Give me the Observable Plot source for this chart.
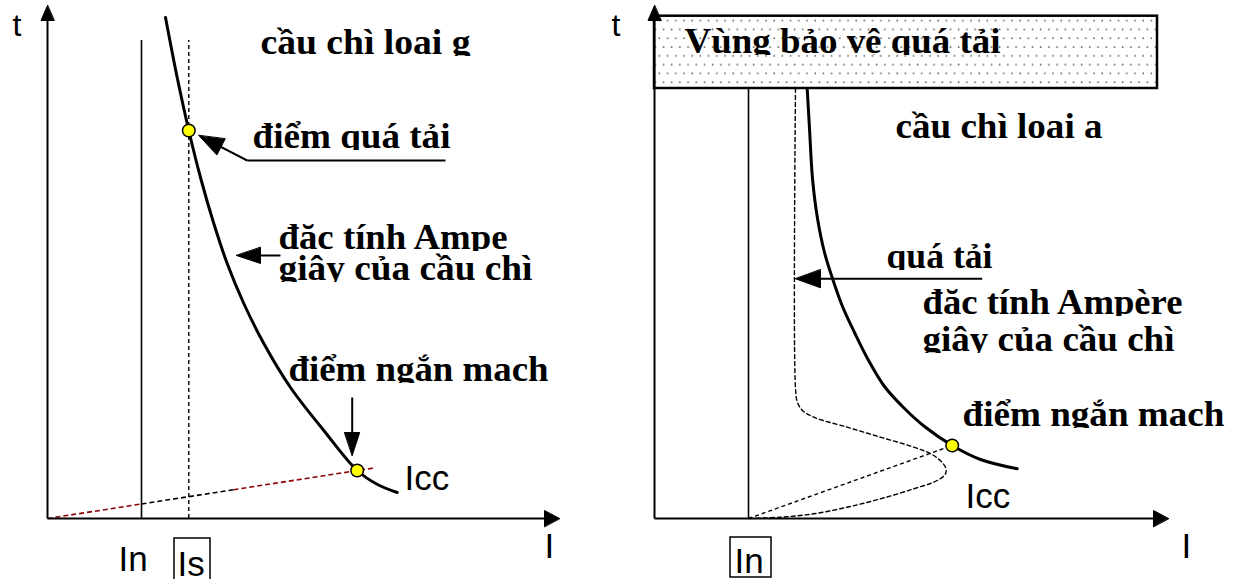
<!DOCTYPE html>
<html><head><meta charset="utf-8">
<script src="https://cdn.jsdelivr.net/npm/d3@7"></script>
<script src="https://cdn.jsdelivr.net/npm/@observablehq/plot@0.6"></script>
<style>
html,body{margin:0;padding:0;background:#fff;}
#wrap{position:relative;width:1238px;height:579px;overflow:hidden;background:#fff;}
#left{position:absolute;left:0;top:0;width:600px;height:579px;}
#right{position:absolute;left:600px;top:0;width:638px;height:579px;}
</style></head>
<body><div id="wrap"><div id="left"></div><div id="right"></div></div>
<script>
// ===== Panel g (cầu chì loại g) — current I vs time t, arbitrary units =====
const gCurveI = [118, 129.7, 141.3, 153, 166.3, 179.7, 196.3, 216.3, 243, 276.3, 309.7, 330, 349.7];
const gCurveT = [501, 441, 388, 341, 295, 255, 215, 175, 131, 88, 48, 34, 26];
const gIn = 94, gIs = 141.3, gGuideTop = 478;
const gLoadI = [0, 94, 186, 327];
const gLoadT = [0, 14.5, 28.8, 50.6];
const gLoadColor = ["#8b0000", "#000000", "#8b0000"];
const gPointI = [141.3, 309.7];
const gPointT = [388, 48];
const gLabels = ["cầu chì loai g", "điểm quá tải", "đăc tính Ampe", "giây của cầu chì", "điểm ngắn mach"];
const gLabelI = [213, 205, 231, 231, 241];
const gLabelT = [465, 371, 270, 239, 138];
const gAxisLabels = ["t", "In", "Is", "Icc", "I"];
const gAxisLabelI = [-35, 71, 130, 357, 497];
const gAxisLabelT = [483, -52, -57, 29, -39];
// pointer arrows: [fromI, fromT, tipI, tipT]
const gPointers = [[199.7, 358, 151.3, 383], [233, 263, 189, 263], [304.7, 121, 304.7, 63]];
const gUnderline = [199.7, 398, 358];
const gBox = [127, 163, -20, -63];

// ===== Panel a (cầu chì loại a) =====
const aCurveI = [152.7, 155, 158, 163, 170, 178, 188, 200, 213, 230, 250, 270, 297.7, 326, 362.7];
const aCurveT = [430, 390, 340, 300, 266, 240, 212, 186, 160, 132, 110, 92, 73, 59, 49.7];
const aDashI = [141, 141, 143, 148, 159.3, 192.7, 226, 259.3, 279.3, 291, 291, 282.7, 259.3, 226, 192.7, 159.3, 126, 94];
const aDashT = [430, 130, 116, 108, 101.3, 91.3, 81.3, 71.3, 63, 51.3, 44.7, 38, 29.7, 19.7, 11.3, 4.7, 1.3, 0];
const aIn = 94, aZoneBottom = 430, aZoneTop = 502.3, aZoneRight = 503;
const aPointI = [297.7];
const aPointT = [73];
const aLabels = ["Vùng bảo vệ quá tải", "cầu chì loai a", "quá tải", "đăc tính Ampère", "giây của cầu chì", "điểm ngắn mach"];
const aLabelI = [30, 241, 232, 268, 268, 308];
const aLabelT = [466, 381, 251, 205, 168, 93];
const aAxisLabels = ["t", "In", "Icc", "I"];
const aAxisLabelI = [-43, 80, 311, 527];
const aAxisLabelT = [483, -54, 11, -39];
const aPointers = [[327.7, 239.7, 141, 239.7]];
const aBox = [76, 117, -19, -59];

// ----- layout / style (not data) -----
const gLabelWidth = [210, 198, 229, 254, 260];
const aLabelWidth = [316, 207, 106, 260, 252, 262];
const gAxisLabelSize = [32, 35, 35, 35, 35];
const aAxisLabelSize = [32, 35, 35, 35];
const SERIF = "'Liberation Serif','Times New Roman',serif";
const SANS = "'Liberation Sans',Arial,sans-serif";
const SERIF_SIZE = 36;

function headPolys(arrows) {
  const out = [];
  arrows.forEach(([x1, y1, x2, y2, len, wid], k) => {
    const dx = x2 - x1, dy = y2 - y1, L = Math.hypot(dx, dy), ux = dx / L, uy = dy / L;
    const bx = x2 - ux * len, by = y2 - uy * len, px = -uy, py = ux;
    out.push({x: x2, y: y2, id: k}, {x: bx + px * wid / 2, y: by + py * wid / 2, id: k}, {x: bx - px * wid / 2, y: by - py * wid / 2, id: k});
  });
  return out;
}
function shafts(arrows) {
  return arrows.map(([x1, y1, x2, y2, len]) => {
    const dx = x2 - x1, dy = y2 - y1, L = Math.hypot(dx, dy);
    return {x1, y1, x2: x2 - dx / L * len * 0.6, y2: y2 - dy / L * len * 0.6};
  });
}
const zip = (X, Y) => X.map((x, i) => ({x, y: Y[i]}));

function panel(el, P, prefix) {
  const svg = Plot.plot({
    width: P.width, height: 579, margin: 0,
    x: {domain: [0, P.xMax], range: P.xRange, axis: null},
    y: {domain: [0, 513], range: [518, 5], axis: null},
    color: {type: "identity"},
    style: {background: "transparent", overflow: "visible", maxWidth: "none"},
    marks: P.marks
  });
  el.appendChild(svg);
  const s = d3.select(svg);
  let defs = s.select("defs");
  if (defs.empty()) defs = s.insert("defs", ":first-child");
  const pat = defs.append("pattern").attr("id", prefix + "dots").attr("patternUnits", "userSpaceOnUse")
    .attr("width", 8.2).attr("height", 17.6);
  pat.append("rect").attr("width", 8.2).attr("height", 17.6).attr("fill", "#fff");
  pat.append("circle").attr("cx", 2).attr("cy", 3).attr("r", 0.9).attr("fill", "#555");
  pat.append("circle").attr("cx", 6.1).attr("cy", 11.8).attr("r", 0.9).attr("fill", "#555");
  const groups = s.selectAll('g[aria-label="text"]').nodes();
  groups.forEach(g => d3.select(g).selectAll("text").attr("dy", null).attr("y", 0));
  d3.select(groups[0]).selectAll("text").each(function (_, i) {
    const w = P.serifWidths[i];
    const id = prefix + "clip" + i;
    defs.append("clipPath").attr("id", id).attr("clipPathUnits", "userSpaceOnUse")
      .append("rect").attr("x", -8).attr("y", -80).attr("width", w + 16).attr("height", 82.5);
    d3.select(this).attr("textLength", w).attr("lengthAdjust", "spacingAndGlyphs").attr("clip-path", `url(#${id})`);
  });
  if (P.zone) s.selectAll('g[aria-label="rect"]').filter((d, i) => i === 0).selectAll("rect").attr("fill", `url(#${prefix}dots)`);
}

// ---------- left panel ----------
const gArrowSpecs = [
  [0, 0, 0, 513, 15, 13],
  [0, 0, 512, 0, 15, 16],
  [...gPointers[0], 25, 18],
  [...gPointers[1], 24, 16],
  [...gPointers[2], 23, 15]
];
const gLoadSeg = gLoadColor.map((c, i) => ({x1: gLoadI[i], y1: gLoadT[i], x2: gLoadI[i + 1], y2: gLoadT[i + 1], c}));
const gSerif = gLabels.map((s, i) => ({s, x: gLabelI[i], y: gLabelT[i]}));
const gSans = gAxisLabels.map((s, i) => ({s, x: gAxisLabelI[i], y: gAxisLabelT[i], size: gAxisLabelSize[i]}));

panel(document.getElementById("left"), {
  width: 600, xMax: 512, xRange: [47, 559], serifWidths: gLabelWidth,
  marks: [
    Plot.ruleX([gIn], {y1: 0, y2: gGuideTop, stroke: "black", strokeWidth: 1.6}),
    Plot.ruleX([gIs], {y1: 0, y2: gGuideTop, stroke: "black", strokeWidth: 1.4, strokeDasharray: "4,3"}),
    Plot.link(gLoadSeg, {x1: "x1", y1: "y1", x2: "x2", y2: "y2", stroke: "c", strokeWidth: 1.6, strokeDasharray: "5,3"}),
    Plot.link(shafts(gArrowSpecs.slice(0, 2)), {x1: "x1", y1: "y1", x2: "x2", y2: "y2", stroke: "black", strokeWidth: 2}),
    Plot.line(zip(gCurveI, gCurveT), {x: "x", y: "y", curve: "catmull-rom", stroke: "black", strokeWidth: 3}),
    Plot.link(shafts(gArrowSpecs.slice(2)), {x1: "x1", y1: "y1", x2: "x2", y2: "y2", stroke: "black", strokeWidth: 2}),
    Plot.link([gUnderline], {x1: d => d[0], x2: d => d[1], y1: d => d[2], y2: d => d[2], stroke: "black", strokeWidth: 1.8}),
    Plot.line(headPolys(gArrowSpecs), {x: "x", y: "y", z: "id", fill: "black", stroke: "black", strokeWidth: 1, curve: "linear-closed"}),
    Plot.dot(zip(gPointI, gPointT), {x: "x", y: "y", r: 6.3, fill: "#ffff00", stroke: "black", strokeWidth: 1.5}),
    Plot.rect([gBox], {x1: d => d[0], x2: d => d[1], y1: d => d[2], y2: d => d[3], fill: "none", stroke: "black", strokeWidth: 1.5}),
    Plot.text(gSerif, {x: "x", y: "y", text: "s", textAnchor: "start", fontFamily: SERIF, fontWeight: "bold", fontSize: SERIF_SIZE, fill: "black"}),
    Plot.text(gSans, {x: "x", y: "y", text: "s", textAnchor: "start", fontFamily: SANS, fontSize: d => d.size, fill: "black"})
  ]
}, "g");

// ---------- right panel ----------
const aArrowSpecs = [
  [0, 0, 0, 513, 15, 13],
  [0, 0, 514, 0, 15, 16],
  [...aPointers[0], 25, 18]
];
const aSerif = aLabels.map((s, i) => ({s, x: aLabelI[i], y: aLabelT[i]}));
const aSans = aAxisLabels.map((s, i) => ({s, x: aAxisLabelI[i], y: aAxisLabelT[i], size: aAxisLabelSize[i]}));

panel(document.getElementById("right"), {
  width: 638, xMax: 514, xRange: [54, 568], serifWidths: aLabelWidth, zone: true,
  marks: [
    Plot.rect([[0, aZoneRight, aZoneBottom, aZoneTop]], {x1: d => d[0], x2: d => d[1], y1: d => d[2], y2: d => d[3], fill: "white", stroke: "black", strokeWidth: 2.5}),
    Plot.link(shafts(aArrowSpecs.slice(0, 2)), {x1: "x1", y1: "y1", x2: "x2", y2: "y2", stroke: "black", strokeWidth: 2}),
    Plot.ruleX([aIn], {y1: 0, y2: aZoneBottom, stroke: "black", strokeWidth: 1.6}),
    Plot.line(zip(aDashI, aDashT), {x: "x", y: "y", curve: "catmull-rom", stroke: "black", strokeWidth: 1.4, strokeDasharray: "4,3"}),
    Plot.link([[aIn, 0, aPointI[0], aPointT[0]]], {x1: d => d[0], y1: d => d[1], x2: d => d[2], y2: d => d[3], stroke: "black", strokeWidth: 1.4, strokeDasharray: "4,3"}),
    Plot.line(zip(aCurveI, aCurveT), {x: "x", y: "y", curve: "catmull-rom", stroke: "black", strokeWidth: 3}),
    Plot.link(shafts(aArrowSpecs.slice(2)), {x1: "x1", y1: "y1", x2: "x2", y2: "y2", stroke: "black", strokeWidth: 2}),
    Plot.line(headPolys(aArrowSpecs), {x: "x", y: "y", z: "id", fill: "black", stroke: "black", strokeWidth: 1, curve: "linear-closed"}),
    Plot.dot(zip(aPointI, aPointT), {x: "x", y: "y", r: 6.3, fill: "#ffff00", stroke: "black", strokeWidth: 1.5}),
    Plot.rect([aBox], {x1: d => d[0], x2: d => d[1], y1: d => d[2], y2: d => d[3], fill: "none", stroke: "black", strokeWidth: 1.5}),
    Plot.text(aSerif, {x: "x", y: "y", text: "s", textAnchor: "start", fontFamily: SERIF, fontWeight: "bold", fontSize: SERIF_SIZE, fill: "black"}),
    Plot.text(aSans, {x: "x", y: "y", text: "s", textAnchor: "start", fontFamily: SANS, fontSize: d => d.size, fill: "black"})
  ]
}, "a");
</script>
</body></html>
